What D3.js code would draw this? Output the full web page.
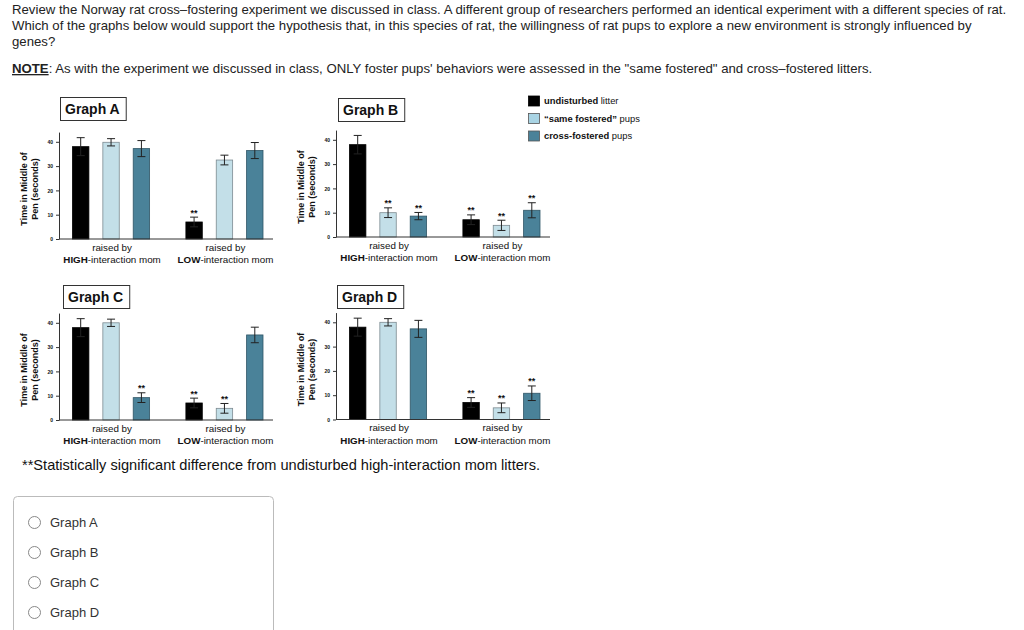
<!DOCTYPE html>
<html>
<head>
<meta charset="utf-8">
<script src="https://cdn.jsdelivr.net/npm/d3@7"></script>
<style>
  body { margin: 0; background: #fff; }
  svg { display: block; font-family: "Liberation Sans", Arial, sans-serif; }
</style>
</head>
<body>
<div id="chart"></div>
<script>
// data
const groups = ["HIGH", "LOW"]
const litterTypes = ["undisturbed", "same", "cross"]
const yTicks = [0, 10, 20, 30, 40]
const graphNames = ["Graph A", "Graph B", "Graph C", "Graph D"]

// means, order: HIGH undisturbed/same/cross, LOW undisturbed/same/cross
const meansA = [38, 39.8, 37.2, 7, 32.5, 36.4]
const errA = [3.7, 1.5, 3.3, 2, 2, 3.3]
const sigA = [0, 0, 0, 1, 0, 0]

const meansB = [38, 10, 8.6, 7.1, 4.8, 11]
const errB = [3.8, 2, 1.5, 2, 2.1, 3.1]
const sigB = [0, 1, 1, 1, 1, 1]

const meansC = [38, 40, 9.2, 7, 4.8, 35]
const errC = [3.7, 1.5, 2, 2, 2, 3.2]
const sigC = [0, 0, 1, 1, 1, 0]

const meansD = [38, 40, 37.3, 7, 4.8, 10.8]
const errD = [3.7, 1.5, 3.5, 2, 2, 3]
const sigD = [0, 0, 0, 1, 1, 1]

const legendBold = ["undisturbed", "\u201csame fostered\u201d", "cross-fostered"]
const legendRest = [" litter", " pups", " pups"]
const options = ["Graph A", "Graph B", "Graph C", "Graph D"]

const fill = {undisturbed: "#000000", same: "#c3dfe8", cross: "#4a8299"}
const stroke = {undisturbed: "#000000", same: "#7c8a90", cross: "#2f5566"}
const legendFill = ["#000000", "#a9d4e4", "#4a8299"]

const svg = d3.select("#chart")
    .append("svg")
    .attr("width", 1024)
    .attr("height", 630)

// Question text
const q = svg.append("g").attr("fill", "#222").style("font-size", "13.2px")
q.append("text").attr("x", 12).attr("y", 14)
    .text("Review the Norway rat cross\u2013fostering experiment we discussed in class.  A different group of researchers performed an identical experiment with a different species of rat.")
q.append("text").attr("x", 12).attr("y", 30)
    .text("Which of the graphs below would support the hypothesis that, in this species of rat, the willingness of rat pups to explore a new environment is strongly influenced by")
q.append("text").attr("x", 12).attr("y", 46).text("genes?")
let note = q.append("text").attr("x", 12).attr("y", 73)
note.append("tspan").attr("font-weight", "bold").attr("text-decoration", "underline").text("NOTE")
note.append("tspan").text(": As with the experiment we discussed in class, ONLY foster pups' behaviors were assessed in the \"same fostered\" and cross\u2013fostered litters.")

// panels
const panels = [
    {name: graphNames[0], means: meansA, err: errA, sig: sigA, ax: 59, by: 239, bx: 60, bTop: 97},
    {name: graphNames[1], means: meansB, err: errB, sig: sigB, ax: 336, by: 237, bx: 338, bTop: 98},
    {name: graphNames[2], means: meansC, err: errC, sig: sigC, ax: 59, by: 420, bx: 63, bTop: 285},
    {name: graphNames[3], means: meansD, err: errD, sig: sigD, ax: 336, by: 419.5, bx: 337, bTop: 285}
]

panels.forEach(p => {
    let g = svg.append("g")

    let y = d3.scaleLinear().domain([0, 44]).range([p.by, p.by - 44 * 2.43])
    let x0 = d3.scaleBand().domain(groups).range([p.ax + 13.5, p.ax + 204]).paddingInner(0.32)
    let x1 = d3.scaleBand().domain(litterTypes).range([0, x0.bandwidth()]).paddingInner(0.46)

    let rows = []
    groups.forEach((gr, i) => litterTypes.forEach((t, j) => {
        let k = i * 3 + j
        rows.push({group: gr, type: t, v: p.means[k], e: p.err[k], s: p.sig[k]})
    }))

    // y axis
    g.append("g")
        .attr("transform", `translate(${p.ax},0)`)
        .call(d3.axisLeft(y).tickValues(yTicks).tickSize(3).tickSizeOuter(0))
        .call(a => a.select(".domain").attr("stroke", "#333"))
        .call(a => a.selectAll(".tick line").attr("stroke", "#333"))
        .call(a => a.selectAll(".tick text")
            .attr("x", -6)
            .attr("fill", "#111")
            .style("font-size", "5px")
            .style("font-weight", "bold")
            .style("font-family", "Liberation Sans, Arial, sans-serif"))

    // bars
    g.selectAll(".bar")
        .data(rows)
        .join("rect")
        .attr("x", d => x0(d.group) + x1(d.type))
        .attr("y", d => y(d.v))
        .attr("width", x1.bandwidth())
        .attr("height", d => p.by - y(d.v))
        .attr("fill", d => fill[d.type])
        .attr("stroke", d => stroke[d.type])
        .attr("stroke-width", 0.8)

    // error bars
    let cx = d => x0(d.group) + x1(d.type) + x1.bandwidth() / 2
    let eb = g.selectAll(".err").data(rows).join("g").attr("stroke", "#222").attr("stroke-width", 1)
    eb.append("line")
        .attr("x1", cx).attr("x2", cx)
        .attr("y1", d => y(d.v + d.e)).attr("y2", d => y(d.v - d.e))
    eb.append("line")
        .attr("x1", d => cx(d) - 4).attr("x2", d => cx(d) + 4)
        .attr("y1", d => y(d.v + d.e)).attr("y2", d => y(d.v + d.e))
    eb.append("line")
        .attr("x1", d => cx(d) - 4).attr("x2", d => cx(d) + 4)
        .attr("y1", d => y(d.v - d.e)).attr("y2", d => y(d.v - d.e))

    // significance
    g.selectAll(".sig")
        .data(rows.filter(d => d.s))
        .join("text")
        .attr("x", cx)
        .attr("y", d => y(d.v + d.e) - 1.5)
        .attr("text-anchor", "middle")
        .attr("fill", "#111")
        .style("font-size", "9px")
        .style("font-weight", "bold")
        .text("**")

    // x axis
    g.append("g")
        .attr("transform", `translate(0,${p.by})`)
        .call(d3.axisBottom(x0).tickSize(0).tickFormat(""))
        .call(a => a.select(".domain").attr("d", `M${p.ax},0H${p.ax + 214}`).attr("stroke", "#333"))

    groups.forEach(gr => {
        let mx = x0(gr) + x0.bandwidth() / 2 + 1
        g.append("text")
            .attr("x", mx).attr("y", p.by + 11.5)
            .attr("text-anchor", "middle")
            .attr("fill", "#111")
            .style("font-size", "9.8px")
            .text("raised by")
        let t = g.append("text")
            .attr("x", mx).attr("y", p.by + 24)
            .attr("text-anchor", "middle")
            .attr("fill", "#111")
            .style("font-size", "9.8px")
        t.append("tspan").attr("font-weight", "bold").text(gr)
        t.append("tspan").text("-interaction mom")
    })

    // y label
    let yl = g.append("text")
        .attr("transform", `translate(${p.ax - 32},${p.by - 50}) rotate(-90)`)
        .attr("text-anchor", "middle")
        .attr("fill", "#111")
        .style("font-size", "9px")
        .style("font-weight", "bold")
    yl.append("tspan").attr("x", 0).attr("dy", 0).text("Time in Middle of")
    yl.append("tspan").attr("x", 0).attr("dy", 10.5).text("Pen (seconds)")

    // title box
    let box = g.append("rect")
        .attr("x", p.bx + 0.5).attr("y", p.bTop + 0.5)
        .attr("height", 23)
        .attr("fill", "#fff").attr("stroke", "#333")
    let tt = g.append("text")
        .attr("x", p.bx + 5).attr("y", p.bTop + 17)
        .attr("fill", "#111")
        .style("font-size", "14px")
        .style("font-weight", "bold")
        .text(p.name)
    box.attr("width", tt.node().getComputedTextLength() + 11)
})

// legend
const lg = svg.append("g")
legendBold.forEach((b, i) => {
    let yy = 101 + i * 17.5
    lg.append("rect")
        .attr("x", 528.5).attr("y", yy - 5)
        .attr("width", 11).attr("height", 10)
        .attr("fill", legendFill[i])
        .attr("stroke", i == 0 ? "#000" : "#555").attr("stroke-width", 0.8)
    let t = lg.append("text").attr("x", 544).attr("y", yy + 3.3)
        .attr("fill", "#111").style("font-size", "9.4px")
    t.append("tspan").attr("font-weight", "bold").text(b)
    t.append("tspan").text(legendRest[i])
})

// footnote
svg.append("text")
    .attr("x", 22).attr("y", 470)
    .attr("fill", "#111")
    .style("font-size", "14.6px")
    .text("**Statistically significant difference from undisturbed high-interaction mom litters.")

// answer options
svg.append("rect")
    .attr("x", 13.5).attr("y", 496.5)
    .attr("width", 260).attr("height", 150)
    .attr("rx", 4)
    .attr("fill", "#fff").attr("stroke", "#bbb")
options.forEach((o, i) => {
    let yy = 522.5 + i * 30
    svg.append("circle").attr("cx", 34.5).attr("cy", yy).attr("r", 6)
        .attr("fill", "#fff").attr("stroke", "#888")
    svg.append("text").attr("x", 50).attr("y", yy + 4.5)
        .attr("fill", "#333").style("font-size", "13px").text(o)
})
</script>
</body>
</html>
